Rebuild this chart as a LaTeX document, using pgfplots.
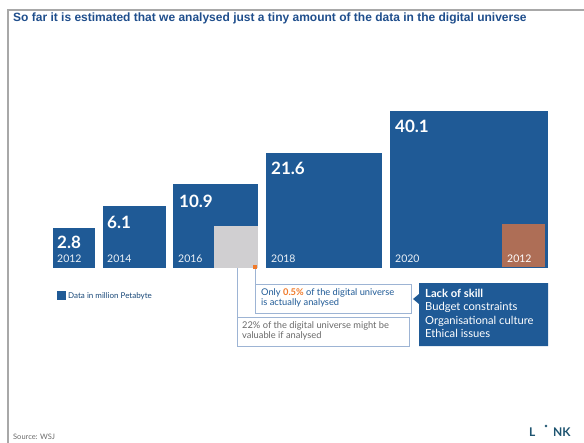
\documentclass[border=0pt]{standalone}
\usepackage{pgfplots}
\pgfplotsset{compat=1.18}
\usepackage{fontspec}
\setmainfont{Lato}
\newfontfamily\titlefont{Liberation Sans}
\definecolor{barblue}{HTML}{1F5A96}
\definecolor{titleblue}{HTML}{1F4E8C}
\definecolor{greysq}{HTML}{D0CFD1}
\definecolor{brownsq}{HTML}{AE6E56}
\definecolor{orangec}{HTML}{F07A2A}
\definecolor{linkblue}{HTML}{9DB4D4}
\definecolor{framegrey}{HTML}{A8A8A8}
\definecolor{txtgrey}{HTML}{6A6A6A}
\definecolor{logoteal}{HTML}{1E5470}
\tikzset{val/.style={anchor=west, inner sep=0, text=white, font=\bfseries\fontsize{17bp}{19bp}\selectfont},
  yr/.style={anchor=west, inner sep=0, text=white!92!barblue, font=\fontsize{10.5bp}{12bp}\selectfont}}
\begin{document}
\begin{tikzpicture}
\begin{axis}[scale only axis, width=584bp, height=443bp,
  xmin=0, xmax=584, ymin=0, ymax=443, y dir=reverse,
  hide axis, clip=false]
% frame
\addplot[framegrey, line width=1.6bp] coordinates {(8,443) (8,10) (584,10)};
% title
\node[anchor=west, inner sep=0, text=titleblue, font=\titlefont\bfseries\fontsize{12bp}{14bp}\selectfont] at (13,18)
  {So far it is estimated that we analysed just a tiny amount of the data in the digital universe};
% squares (side proportional to sqrt of value)
\addplot[fill=barblue, draw=white, line width=0.6bp] coordinates {(52,268) (95,268) (95,227) (52,227)} -- cycle;
\addplot[fill=barblue, draw=white, line width=0.6bp] coordinates {(102,268) (166,268) (166,205) (102,205)} -- cycle;
\addplot[fill=barblue, draw=white, line width=0.6bp] coordinates {(172,268) (258,268) (258,183) (172,183)} -- cycle;
\addplot[fill=barblue, draw=white, line width=0.6bp] coordinates {(265,268) (382,268) (382,152) (265,152)} -- cycle;
\addplot[fill=barblue, draw=white, line width=0.6bp] coordinates {(389,268) (548,268) (548,110) (389,110)} -- cycle;
% grey (2012 in 2016) and brown (2012 in 2020)
\addplot[fill=greysq, draw=none] coordinates {(214,268) (258,268) (258,226) (214,226)} -- cycle;
\addplot[fill=brownsq, draw=none] coordinates {(502,267) (545,267) (545,224) (502,224)} -- cycle;
% values
\node[val] at (57,242) {2.8};
\node[val] at (107,222) {6.1};
\node[val] at (179,201) {10.9};
\node[val] at (271,168) {21.6};
\node[val] at (395,126) {40.1};
\node[yr] at (57,259) {2012};
\node[yr] at (107,259) {2014};
\node[yr] at (178,259) {2016};
\node[yr] at (271,259) {2018};
\node[yr] at (395,259) {2020};
\node[yr, text=white] at (507,259) {2012};
% legend
\addplot[fill=barblue, draw=none] coordinates {(57,291) (66,291) (66,300) (57,300)} -- cycle;
\node[anchor=west, inner sep=0, text=barblue!80!black, font=\fontsize{8bp}{9bp}\selectfont] at (68,296) {Data in million Petabyte};
% connectors
\addplot[linkblue, line width=0.9bp] coordinates {(237,268) (237,318)};
\addplot[linkblue, line width=0.9bp] coordinates {(255,268) (255,284)};
\addplot[fill=orangec, draw=none] coordinates {(253,265) (257,265) (257,269) (253,269)} -- cycle;
% boxes
\addplot[fill=white, draw=linkblue, line width=0.9bp] coordinates {(255,284) (411,284) (411,313) (255,313)} -- cycle;
\node[anchor=north west, inner sep=0, align=left, text=barblue, font=\fontsize{9.3bp}{10.5bp}\selectfont] at (261,288)
  {Only {\color{orangec}\bfseries 0.5\%} of the digital universe\\is actually analysed};
\addplot[fill=white, draw=linkblue, line width=0.9bp] coordinates {(237,317) (409,317) (409,346) (237,346)} -- cycle;
\node[anchor=north west, inner sep=0, align=left, text=txtgrey, font=\fontsize{9.3bp}{10.5bp}\selectfont] at (242,321)
  {22\% of the digital universe might be\\valuable if analysed};
\addplot[fill=barblue, draw=none] coordinates {(419,283) (548,283) (548,346) (419,346) (419,304) (413,299) (419,294)} -- cycle;
\node[anchor=north west, inner sep=0, align=left, text=white, font=\fontsize{11.2bp}{13.4bp}\selectfont] at (425,289)
  {{\bfseries Lack of skill}\\Budget constraints\\Organisational culture\\Ethical issues};
% footer
\node[anchor=west, inner sep=0, text=txtgrey, font=\fontsize{7.5bp}{8bp}\selectfont] at (13,437) {Source: WSJ};
\node[anchor=west, inner sep=0, text=logoteal, font=\bfseries\fontsize{12bp}{13bp}\selectfont] at (529,432) {L};
\node[anchor=west, inner sep=0, text=logoteal, font=\bfseries\fontsize{12bp}{13bp}\selectfont] at (553,432) {NK};
\addplot[only marks, mark=*, mark size=1.1bp, logoteal] coordinates {(546,426)};
\end{axis}
\pgfresetboundingbox
\path[use as bounding box] (current axis.south west) rectangle (current axis.north east);
\end{tikzpicture}
\end{document}
